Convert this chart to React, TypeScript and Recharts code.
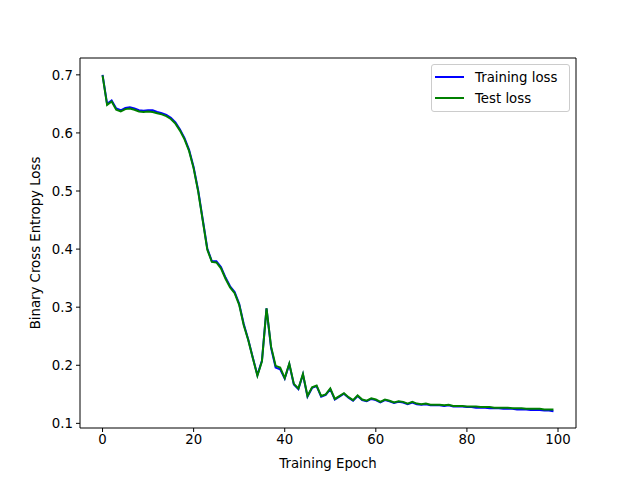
import { LineChart, Line, XAxis, YAxis } from "recharts";

const epochs = Array.from({ length: 100 }, (_, i) => i);

const trainLoss = [
  0.700, 0.650, 0.656, 0.642, 0.639, 0.643, 0.644, 0.642, 0.639, 0.638,
  0.639, 0.639, 0.636, 0.634, 0.631, 0.626, 0.618, 0.606, 0.591, 0.571,
  0.541, 0.501, 0.451, 0.401, 0.379, 0.379, 0.369, 0.351, 0.336, 0.326,
  0.306, 0.271, 0.244, 0.213, 0.183, 0.208, 0.298, 0.230, 0.196, 0.193,
  0.177, 0.202, 0.167, 0.159, 0.184, 0.146, 0.161, 0.164, 0.146, 0.149,
  0.159, 0.141, 0.146, 0.151, 0.144, 0.139, 0.147, 0.140, 0.138, 0.142,
  0.140, 0.136, 0.140, 0.138, 0.135, 0.137, 0.136, 0.133, 0.136, 0.133,
  0.132, 0.133, 0.131, 0.131, 0.131, 0.130, 0.131, 0.129, 0.129, 0.129,
  0.128, 0.128, 0.127, 0.127, 0.127, 0.126, 0.126, 0.126, 0.125, 0.125,
  0.125, 0.124, 0.124, 0.124, 0.123, 0.123, 0.123, 0.122, 0.122, 0.121,
];

const testLoss = [
  0.699, 0.648, 0.654, 0.640, 0.637, 0.641, 0.642, 0.640, 0.637, 0.636,
  0.637, 0.636, 0.634, 0.632, 0.629, 0.624, 0.616, 0.604, 0.589, 0.569,
  0.539, 0.499, 0.449, 0.399, 0.378, 0.377, 0.367, 0.349, 0.334, 0.324,
  0.304, 0.269, 0.243, 0.212, 0.182, 0.207, 0.298, 0.232, 0.199, 0.196,
  0.178, 0.203, 0.168, 0.160, 0.185, 0.147, 0.162, 0.165, 0.147, 0.150,
  0.160, 0.142, 0.147, 0.152, 0.145, 0.140, 0.148, 0.141, 0.139, 0.143,
  0.141, 0.137, 0.141, 0.139, 0.136, 0.138, 0.137, 0.134, 0.137, 0.134,
  0.133, 0.134, 0.132, 0.132, 0.132, 0.131, 0.132, 0.130, 0.130, 0.130,
  0.129, 0.129, 0.129, 0.128, 0.128, 0.128, 0.127, 0.127, 0.127, 0.127,
  0.126, 0.126, 0.126, 0.125, 0.125, 0.125, 0.125, 0.124, 0.124, 0.124,
];

const xTicks = [0, 20, 40, 60, 80, 100];
const yTicks = [0.1, 0.2, 0.3, 0.4, 0.5, 0.6, 0.7];

const data = epochs.map((e, i) => ({ epoch: e, train: trainLoss[i], test: testLoss[i] }));

const FONT = "'DejaVu Sans', sans-serif";
const tickStyle = { fontSize: 13.3, fill: "#000", fontFamily: FONT };

export default function App() {
  return (
    <div style={{ position: "absolute", left: 0, top: 0, width: 640, height: 480, background: "#fff", fontFamily: FONT }}>
      <LineChart width={640} height={480} data={data} margin={{ top: 57, right: 63, bottom: 0, left: 0 }}>
        <XAxis
          dataKey="epoch"
          type="number"
          domain={[-4.95, 103.95]}
          ticks={xTicks}
          allowDataOverflow
          height={52}
          stroke="#000"
          tick={tickStyle}
          tickSize={4}
          tickMargin={3}
          label={{ value: "Training Epoch", position: "insideBottom", offset: 12, style: { fontSize: 13.3, fill: "#000", fontFamily: FONT } }}
        />
        <XAxis xAxisId="top" orientation="top" dataKey="epoch" type="number" domain={[-4.95, 103.95]} allowDataOverflow height={1} tick={false} tickLine={false} stroke="#000" />
        <YAxis
          type="number"
          domain={[0.092, 0.729]}
          ticks={yTicks}
          allowDataOverflow
          width={80}
          stroke="#000"
          tick={tickStyle}
          tickSize={4}
          tickMargin={3}
          tickFormatter={(v: number) => v.toFixed(1)}
          label={{ value: "Binary Cross Entropy Loss", angle: -90, position: "insideLeft", offset: 35, style: { fontSize: 13.3, fill: "#000", fontFamily: FONT, textAnchor: "middle" } }}
        />
        <YAxis yAxisId="right" orientation="right" type="number" domain={[0.092, 0.729]} allowDataOverflow width={1} tick={false} tickLine={false} stroke="#000" />
        <Line type="linear" dataKey="train" stroke="#0000ff" strokeWidth={2} dot={false} isAnimationActive={false} />
        <Line type="linear" dataKey="test" stroke="#008000" strokeWidth={2} dot={false} isAnimationActive={false} />
      </LineChart>
      <div
        style={{
          position: "absolute",
          left: 431,
          top: 64,
          width: 137,
          height: 46,
          border: "1px solid #cccccc",
          borderRadius: 3,
          background: "rgba(255,255,255,0.8)",
          fontSize: 13.3,
          color: "#000",
        }}
      >
        {[
          { name: "Training loss", color: "#0000ff" },
          { name: "Test loss", color: "#008000" },
        ].map((s, i) => (
          <div key={s.name} style={{ position: "absolute", left: 3, top: 3 + i * 21, height: 18, display: "flex", alignItems: "center" }}>
            <span style={{ display: "inline-block", width: 29, height: 2, background: s.color, marginRight: 11 }} />
            <span>{s.name}</span>
          </div>
        ))}
      </div>
    </div>
  );
}
